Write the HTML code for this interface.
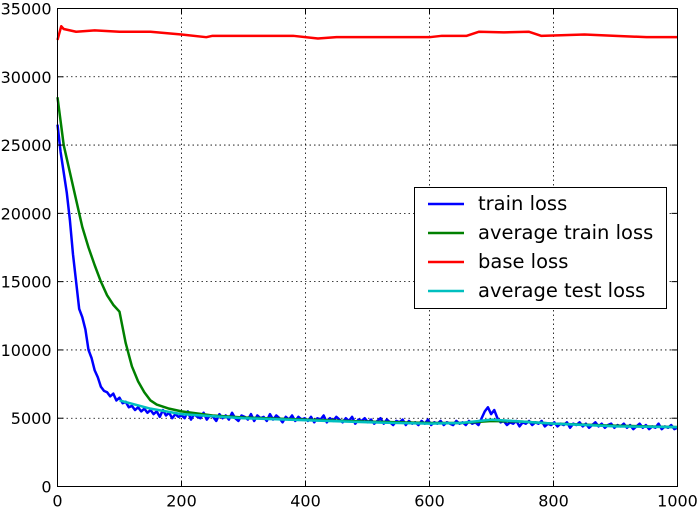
<!DOCTYPE html>
<html><head><meta charset="utf-8"><style>
body{margin:0;background:#fff;}
svg{display:block;font-family:"DejaVu Sans","Liberation Sans",sans-serif;}
</style></head><body>
<svg id="chart" width="698" height="508"></svg>
<script>
const xTicks=[0,200,400,600,800,1000];
const yTicks=[0,5000,10000,15000,20000,25000,30000,35000];
const seriesNames=["train loss","average train loss","base loss","average test loss"];
const trainX0=[0,5,10,15,20,25,30,35,40,45,50,55,60,65,70,75,80,85,90,95,100,105,110,115,120,125,130,135,140,145,150,155,160,165,170,175,180,185,190,195];
const trainY0=[26500,24500,23000,21500,19500,17000,15000,13000,12400,11500,10000,9400,8500,8000,7300,7000,6900,6600,6800,6300,6500,6100,6200,5800,5900,5600,5800,5500,5700,5400,5600,5300,5500,5100,5600,5200,5400,5000,5300,5100];
const trainTail=[5200,5000,5500,4900,5300,5100,5000,5400,4900,5200,5100,4800,5300,5000,5200,4900,5400,5000,4800,5200,5100,4900,5300,4800,5200,5000,5100,4800,5300,4900,5200,5000,4700,5100,4900,5200,4800,5100,4900,5000,4800,5100,4700,5000,4900,5200,4700,5000,4800,5100,4900,4700,5000,4800,5100,4600,4900,4800,5000,4700,4900,4600,4800,5000,4600,4900,4700,4500,4800,4700,4900,4500,4800,4600,4700,4500,4800,4600,4900,4500,4700,4600,4800,4500,4700,4600,4500,4800,4600,4700,4500,4800,4600,4700,4500,5000,5500,5800,5300,5600,5000,4700,4800,4500,4700,4600,4800,4400,4700,4600,4800,4500,4700,4600,4800,4400,4600,4500,4700,4400,4600,4500,4700,4300,4600,4500,4700,4400,4600,4300,4500,4700,4400,4600,4300,4500,4600,4300,4500,4400,4600,4300,4500,4200,4400,4600,4300,4500,4200,4400,4300,4600,4200,4400,4300,4500,4200,4300];
const avgTrainX=[0,10,20,30,40,50,60,70,80,90,100,110,120,130,140,150,160,180,200,250,300,400,500,600,650,700,750,800,900,1000];
const avgTrainY=[28500,25000,23000,21000,19000,17500,16200,15000,14000,13300,12800,10500,8800,7700,6900,6300,6000,5700,5500,5200,5050,4900,4750,4650,4650,4800,4750,4600,4450,4350];
const baseX=[0,3,6,10,20,30,60,100,150,200,240,250,300,380,420,450,500,600,620,660,680,720,760,780,850,900,950,1000];
const baseY=[32700,33200,33700,33500,33400,33300,33400,33300,33300,33100,32900,33000,33000,33000,32800,32900,32900,32900,33000,33000,33300,33250,33300,33000,33100,33000,32900,32900];
const testX=[100,150,200,300,400,500,600,650,700,750,800,900,1000];
const testY=[6300,5700,5300,5000,4850,4700,4600,4650,4900,4750,4600,4400,4350];

const L=57.5,R=677.5,T=8.5,B=486.5;
const sx=v=>L+(v/1000)*(R-L);
const sy=v=>B-(v/35000)*(B-T);
const svg=document.getElementById('chart');
const NS='http://www.w3.org/2000/svg';
function mk(tag,attrs,parent){const e=document.createElementNS(NS,tag);for(const k in attrs)e.setAttribute(k,attrs[k]);(parent||svg).appendChild(e);return e;}

const trainX=trainX0.slice(),trainY=trainY0.slice();
const step=800/(trainTail.length-1);
trainTail.forEach((v,i)=>{trainX.push(200+i*step);trainY.push(v);});

xTicks.forEach(t=>{if(t>0&&t<1000){const g=mk('line',{x1:sx(t),x2:sx(t),y1:T,y2:B,stroke:'#000','stroke-width':0.8,'stroke-dasharray':'1.5,3'});

}});
yTicks.forEach(t=>{if(t>0&&t<35000){const g=mk('line',{x1:L,x2:R,y1:sy(t),y2:sy(t),stroke:'#000','stroke-width':0.8,'stroke-dasharray':'1.5,3'});

}});

function line(xs,ys,color,name){const p=mk('polyline',{points:xs.map((x,i)=>sx(x)+','+sy(ys[i])).join(' '),fill:'none',stroke:color,'stroke-width':2.5,'stroke-linejoin':'round'});

}
line(baseX,baseY,'#ff0000','base-loss-line');
line(trainX,trainY,'#0000ff','train-loss-line');
line(avgTrainX,avgTrainY,'#008000','average-train-loss-line');
line(testX,testY,'#00bfbf','average-test-loss-line');

const f=mk('rect',{x:L,y:T,width:R-L,height:B-T,fill:'none',stroke:'#000','stroke-width':1});



xTicks.forEach(t=>{
 mk('line',{x1:sx(t),x2:sx(t),y1:B,y2:B-6,stroke:'#000'});mk('line',{x1:sx(t),x2:sx(t),y1:T,y2:T+6,stroke:'#000'});
 const tx=mk('text',{x:sx(t),y:B+20,'text-anchor':'middle','font-size':16});tx.textContent=t;
 
 
});
yTicks.forEach(t=>{
 mk('line',{x1:L,x2:L+6,y1:sy(t),y2:sy(t),stroke:'#000'});mk('line',{x1:R,x2:R-6,y1:sy(t),y2:sy(t),stroke:'#000'});
 const tx=mk('text',{x:L-6,y:sy(t)+6,'text-anchor':'end','font-size':16});tx.textContent=t;
 
 
});

const lg=mk('g',{});


mk('rect',{x:414.5,y:187.5,width:252,height:121,fill:'#fff',stroke:'#000','stroke-width':1},lg);
const cols=['#0000ff','#008000','#ff0000','#00bfbf'];
seriesNames.forEach((n,i)=>{
 const y=204+i*29;
 const e=mk('g',{},lg);
 
 
 mk('line',{x1:428,x2:464,y1:y,y2:y,stroke:cols[i],'stroke-width':2.5},e);
 const t=mk('text',{x:478,y:y+6,'font-size':19.5},e);t.textContent=n;
});
</script>
</body></html>
